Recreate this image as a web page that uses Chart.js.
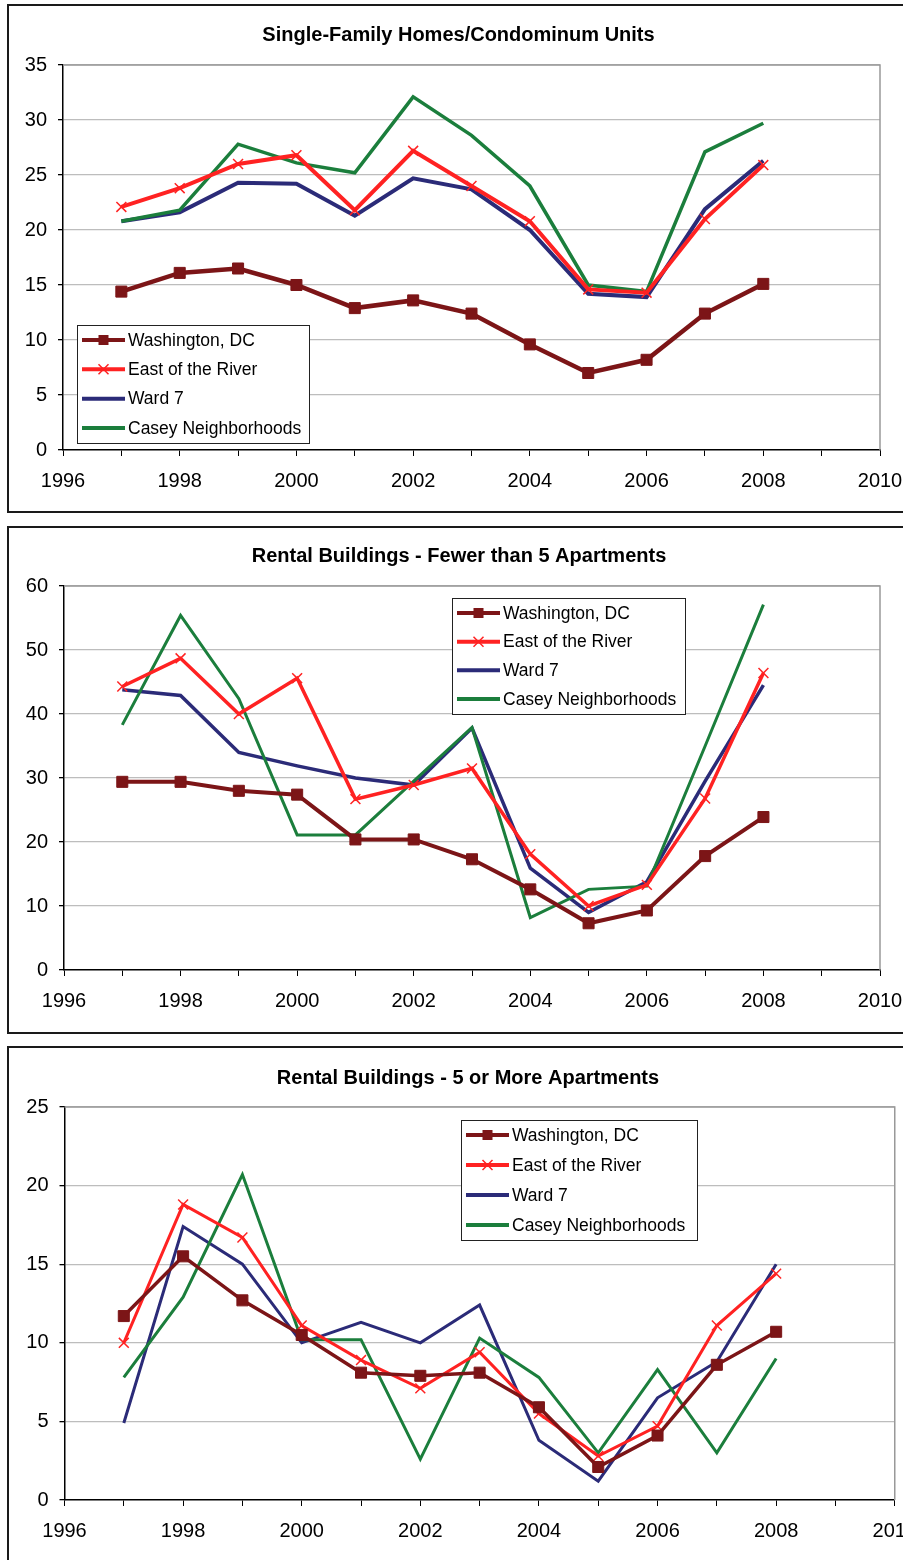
<!DOCTYPE html>
<html>
<head>
<meta charset="utf-8">
<script src="https://cdn.jsdelivr.net/npm/chart.js@4.4.1/dist/chart.umd.min.js"></script>
<style>
  html, body { margin: 0; padding: 0; background: #fff; }
  body { width: 903px; height: 1560px; overflow: hidden; position: relative; }
  .frame { position: absolute; left: 7px; width: 940px; border: 2px solid #1a1a1a; box-sizing: border-box; }
  canvas { position: absolute; left: 0; }
</style>
</head>
<body>
<div class="frame" style="top:4px;height:509px"></div>
<div class="frame" style="top:526px;height:508px"></div>
<div class="frame" style="top:1046px;height:540px"></div>
<canvas id="chart-homes" width="930" height="520" style="top:0"></canvas>
<canvas id="chart-small" width="930" height="520" style="top:520px"></canvas>
<canvas id="chart-large" width="930" height="520" style="top:1040px"></canvas>
<script>
const years = [1997, 1998, 1999, 2000, 2001, 2002, 2003, 2004, 2005, 2006, 2007, 2008];
const seriesNames = ['Washington, DC', 'East of the River', 'Ward 7', 'Casey Neighborhoods'];

// Single-Family Homes/Condominum Units
const homesDC     = [14.4, 16.1, 16.5, 15.0, 12.9, 13.6, 12.4, 9.6, 7.0, 8.2, 12.4, 15.1];
const homesEast   = [22.1, 23.8, 26.0, 26.8, 21.8, 27.2, 24.0, 20.8, 14.6, 14.3, 21.0, 25.9];
const homesWard7  = [20.8, 21.6, 24.3, 24.2, 21.3, 24.7, 23.7, 20.0, 14.2, 13.9, 21.9, 26.3];
const homesCasey  = [20.8, 21.8, 27.8, 26.1, 25.2, 32.1, 28.6, 24.0, 15.0, 14.4, 27.1, 29.7];

// Rental Buildings - Fewer than 5 Apartments
const smallDC     = [29.4, 29.4, 28.0, 27.4, 20.4, 20.4, 17.3, 12.6, 7.3, 9.3, 17.8, 23.9];
const smallEast   = [44.3, 48.7, 40.0, 45.6, 26.7, 28.9, 31.5, 18.1, 10.0, 13.3, 26.8, 46.4];
const smallWard7  = [43.8, 42.9, 34.0, 31.9, 30.0, 28.9, 37.8, 15.9, 9.0, 13.8, 29.5, 44.5];
const smallCasey  = [38.3, 55.4, 42.4, 21.1, 21.1, 29.5, 37.9, 8.2, 12.6, 13.1, 35.0, 57.1];

// Rental Buildings - 5 or More Apartments
const largeDC     = [11.7, 15.5, 12.7, 10.5, 8.1, 7.9, 8.1, 5.9, 2.1, 4.1, 8.6, 10.7];
const largeEast   = [10.0, 18.8, 16.7, 11.1, 8.9, 7.1, 9.4, 5.5, 2.8, 4.7, 11.1, 14.4];
const largeWard7  = [4.9, 17.4, 15.0, 10.0, 11.3, 10.0, 12.4, 3.8, 1.2, 6.5, 8.8, 15.0];
const largeCasey  = [7.8, 12.9, 20.7, 10.2, 10.2, 2.6, 10.3, 7.8, 3.0, 8.3, 3.0, 9.0];

const colors = ['#7c1517', '#ff2222', '#2b2b78', '#1b7e3c'];

Chart.defaults.font.family = '"Liberation Sans", Arial, sans-serif';
Chart.defaults.color = '#000';

function points(values) {
    return years.map((yr, i) => ({ x: yr, y: values[i] }));
}

// chart title, placed where the original has it (not centred on the canvas)
const chartTitle = {
    id: 'chartTitle',
    afterDraw(chart, args, opts) {
        const ctx = chart.ctx;
        ctx.save();
        ctx.fillStyle = '#000';
        ctx.font = 'bold 20px "Liberation Sans", Arial, sans-serif';
        ctx.textAlign = 'center';
        ctx.textBaseline = 'middle';
        ctx.fillText(opts.text, opts.x, opts.y);
        ctx.restore();
    }
};

// legend drawn inside the plot, Excel style
const boxLegend = {
    id: 'boxLegend',
    afterDraw(chart, args, opts) {
        const ctx = chart.ctx;
        const b = opts.box;
        ctx.save();
        ctx.fillStyle = '#fff';
        ctx.fillRect(b.x, b.y, b.w, b.h);
        ctx.strokeStyle = '#222';
        ctx.lineWidth = 1;
        ctx.strokeRect(b.x + 0.5, b.y + 0.5, b.w, b.h);
        const step = (b.h - 30) / 3;
        chart.data.datasets.forEach((ds, i) => {
            const y = b.y + 15 + i * step;
            const cx = b.x + 26.5;
            ctx.strokeStyle = ds.borderColor;
            ctx.lineWidth = 4;
            ctx.beginPath();
            ctx.moveTo(b.x + 5, y);
            ctx.lineTo(b.x + 48, y);
            ctx.stroke();
            if (ds.pointStyle === 'rect') {
                ctx.fillStyle = ds.borderColor;
                ctx.fillRect(cx - 5, y - 5, 10, 10);
            } else if (ds.pointStyle === 'crossRot') {
                ctx.lineWidth = 1.5;
                ctx.beginPath();
                ctx.moveTo(cx - 5, y - 5); ctx.lineTo(cx + 5, y + 5);
                ctx.moveTo(cx + 5, y - 5); ctx.lineTo(cx - 5, y + 5);
                ctx.stroke();
            }
            ctx.fillStyle = '#000';
            ctx.font = '17.5px "Liberation Sans", Arial, sans-serif';
            ctx.textBaseline = 'middle';
            ctx.textAlign = 'left';
            ctx.fillText(ds.label, b.x + 51, y + 1);
        });
        ctx.restore();
    }
};

// grey top/right edge of the plot area
const plotFrame = {
    id: 'plotFrame',
    beforeDatasetsDraw(chart) {
        const { ctx, chartArea: a } = chart;
        ctx.save();
        ctx.strokeStyle = '#999';
        ctx.lineWidth = 1.5;
        ctx.beginPath();
        ctx.moveTo(a.left, a.top);
        ctx.lineTo(a.right, a.top);
        ctx.lineTo(a.right, a.bottom);
        ctx.stroke();
        ctx.restore();
    }
};

function makeChart(id, cfg) {
    const ctx = document.getElementById(id).getContext('2d');
    const lists = [cfg.dc, cfg.east, cfg.ward, cfg.casey];
    const datasets = lists.map((vals, i) => ({
        label: seriesNames[i],
        data: points(vals),
        borderColor: colors[i],
        backgroundColor: colors[i],
        borderWidth: cfg.widths[i],
        pointStyle: i === 0 ? 'rect' : (i === 1 ? 'crossRot' : 'circle'),
        pointRadius: i === 0 ? 7.8 : (i === 1 ? 7 : 0),
        pointBorderWidth: i === 1 ? 1.5 : 1,
        pointBackgroundColor: colors[i],
        tension: 0,
        order: [0, 1, 3, 2][i]
    }));

    return new Chart(ctx, {
        type: 'line',
        data: { datasets },
        plugins: [plotFrame, boxLegend, chartTitle],
        options: {
            responsive: false,
            animation: false,
            devicePixelRatio: 1,
            layout: { padding: { left: 0, right: 930 - cfg.right, top: cfg.top, bottom: 0 } },
            plugins: {
                legend: { display: false },
                tooltip: { enabled: false },
                title: { display: false },
                chartTitle: { text: cfg.title, x: cfg.titleX, y: cfg.titleY },
                boxLegend: { box: cfg.legend }
            },
            scales: {
                x: {
                    type: 'linear',
                    min: 1996,
                    max: 2010,
                    afterFit: s => { s.height = 520 - cfg.bottom; },
                    ticks: {
                        stepSize: 1,
                        autoSkip: false,
                        maxRotation: 0,
                        padding: 13,
                        font: { size: 20 },
                        callback: v => (v % 2 === 0 ? String(v) : '')
                    },
                    grid: { drawOnChartArea: false, drawTicks: true, tickLength: 6, tickColor: '#000' },
                    border: { color: '#000', width: 1.5 }
                },
                y: {
                    min: 0,
                    max: cfg.yMax,
                    afterFit: s => { s.width = cfg.left; },
                    ticks: { stepSize: cfg.yStep, padding: 11, font: { size: 20 } },
                    grid: {
                        color: c => (c.tick && c.tick.value === 0 ? 'rgba(0,0,0,0)' : '#bdbdbd'),
                        lineWidth: 1.3,
                        tickLength: 5,
                        tickColor: '#000'
                    },
                    border: { color: '#000', width: 1.5 }
                }
            }
        }
    });
}

makeChart('chart-homes', {
    title: 'Single-Family Homes/Condominum Units',
    dc: homesDC, east: homesEast, ward: homesWard7, casey: homesCasey,
    yMax: 35, yStep: 5,
    left: 63, right: 880, top: 65, bottom: 450, titleX: 458.5, titleY: 35,
    widths: [4.5, 4, 4, 3.5],
    legend: { x: 77, y: 325, w: 232, h: 118 }
});

makeChart('chart-small', {
    title: 'Rental Buildings - Fewer than 5 Apartments',
    dc: smallDC, east: smallEast, ward: smallWard7, casey: smallCasey,
    yMax: 60, yStep: 10,
    left: 64, right: 880, top: 66, bottom: 450, titleX: 459, titleY: 36,
    widths: [4, 3.5, 3.5, 3],
    legend: { x: 452, y: 78, w: 233, h: 116 }
});

makeChart('chart-large', {
    title: 'Rental Buildings - 5 or More Apartments',
    dc: largeDC, east: largeEast, ward: largeWard7, casey: largeCasey,
    yMax: 25, yStep: 5,
    left: 64.5, right: 898, top: 67, bottom: 460, titleX: 468, titleY: 38,
    widths: [3.5, 3, 3, 3],
    legend: { x: 461, y: 80, w: 236, h: 120 }
});
</script>
</body>
</html>
